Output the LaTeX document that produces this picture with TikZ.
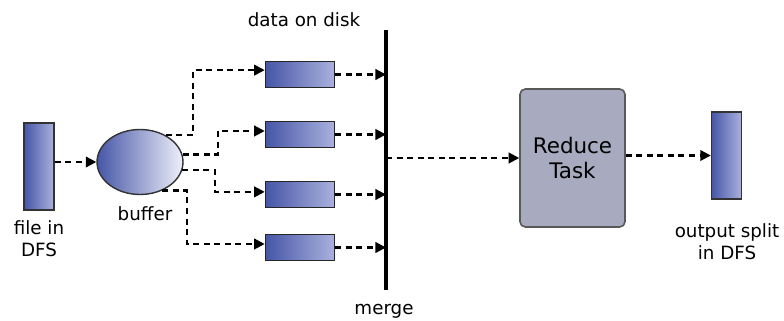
\documentclass[tikz,border=0pt]{standalone}
\usepackage{fontspec}
\setmainfont{DejaVu Sans}
\usepackage{tikz}
\usetikzlibrary{positioning,arrows.meta,shapes.geometric}
\definecolor{dblue}{HTML}{4656A8}
\definecolor{lblue}{HTML}{AAB1DD}
\definecolor{wblue}{HTML}{EEF0F9}
\definecolor{rgray}{HTML}{A8AABF}
\tikzset{
  split/.style={rectangle, draw=black!80, line width=0.8pt, left color=dblue, right color=lblue, minimum width=0.6cm, minimum height=1.74cm},
  disk/.style={rectangle, draw=black!85, line width=0.9pt, left color=dblue, right color=lblue, minimum width=1.38cm, minimum height=0.52cm},
  buf/.style={ellipse, draw=black!80, line width=0.8pt, left color=dblue, right color=wblue, minimum width=1.72cm, minimum height=1.3cm, inner sep=0pt},
  task/.style={rectangle, rounded corners=3pt, draw=black!65, line width=0.9pt, fill=rgray, minimum width=2.1cm, minimum height=2.76cm, align=center, font=\fontsize{12.2}{14.7}\selectfont},
  lbl/.style={align=center, font=\fontsize{10.4}{12.5}\selectfont, inner sep=0pt},
  flow/.style={dash pattern=on 3.4pt off 2.6pt, line width=1.25pt, -{Triangle[length=6pt,width=6pt]}},
}

\begin{document}
\begin{tikzpicture}[x=0.02cm, y=-0.02cm]
	\useasboundingbox (0,0) rectangle (784,321);

	\node[split] (file) at (39,166.5) {};
	\node[lbl] (filelbl) at (39,239) {file in\\DFS};
	\node[buf] (buffer) at (140,162) {};
	\node[lbl] (buflbl) at (145,214) {buffer};

	\node[disk] (d1) at (300,74.5) {};
	\node[disk] (d2) at (300,134.5) {};
	\node[disk] (d3) at (300,194.5) {};
	\node[disk] (d4) at (300,247.5) {};
	\node[lbl] (disklbl) at (304,20) {data on disk};

	\coordinate (mtop) at (386,30);
	\coordinate (mbot) at (386,290);
	\draw[line width=2.3pt] (mtop) -- (mbot);
	\node[lbl] (mergelbl) at (384,311) {merge};

	\node[task] (reduce) at (572.5,158) {Reduce\\Task};
	\node[split] (out) at (726.5,155.5) {};
	\node[lbl] (outlbl) at (727,242) {output split\\in DFS};

	% bend points of the spill paths
	\coordinate (b1) at (193,0);
	\coordinate (b2) at (218,0);
	\coordinate (b3) at (215,0);
	\coordinate (b4) at (187,0);

	\draw[flow] (file.east |- buffer) -- (buffer.west);

	\draw[flow] (buffer.46) -- (buffer.46 -| b1) |- ([yshift=2.5pt]d1.west);
	\draw[flow] (buffer.10) -- (buffer.10 -| b2) |- ([yshift=2pt]d2.west);
	\draw[flow] (buffer.-11) -- (buffer.-11 -| b3) |- ([yshift=1.5pt]d3.west);
	\draw[flow] (buffer.-52) -- (buffer.-52 -| b4) |- ([yshift=2pt]d4.west);

	\draw[flow] (d1.east) -- (d1.east -| mtop);
	\draw[flow] (d2.east) -- (d2.east -| mtop);
	\draw[flow] (d3.east) -- (d3.east -| mtop);
	\draw[flow] (d4.east) -- (d4.east -| mtop);

	\draw[flow] (reduce.west -| mtop) -- (reduce.west);
	\draw[flow] (reduce.east |- out) -- (out.west);
\end{tikzpicture}
\end{document}
